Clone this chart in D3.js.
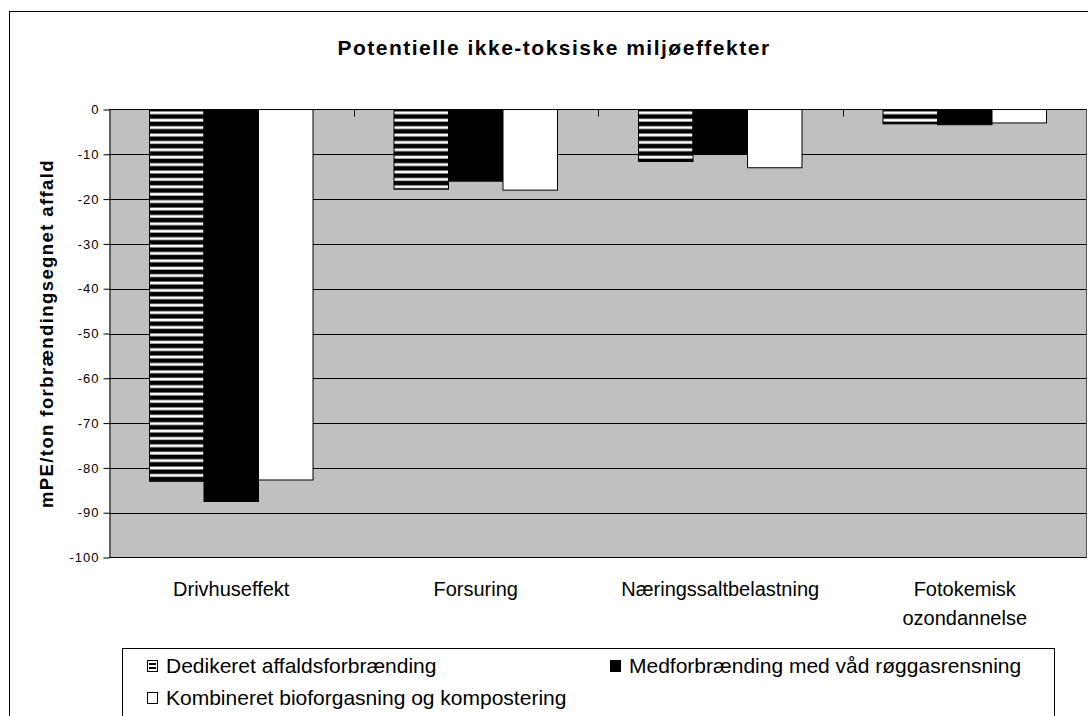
<!DOCTYPE html>
<html lang="da">
<head>
<meta charset="UTF-8">
<title>Potentielle ikke-toksiske miljøeffekter</title>
<style>
  body { margin: 0; background: #fff; }
  svg text { font-family: "Liberation Sans", Arial, sans-serif; fill: #000; }
</style>
</head>
<body>
<script src="https://d3js.org/d3.v7.min.js"></script>
<script>
// data (mPE per ton)
const categories = ["Drivhuseffekt", "Forsuring", "Næringssaltbelastning", "Fotokemisk ozondannelse"];
const series = ["Dedikeret affaldsforbrænding", "Medforbrænding med våd røggasrensning", "Kombineret bioforgasning og kompostering"];
const dedikeret = [-83, -17.8, -11.6, -3.2];
const medforbraending = [-87.5, -16, -10, -3.4];
const kombineret = [-82.7, -18, -13, -3];
const yTicks = [0, -10, -20, -30, -40, -50, -60, -70, -80, -90, -100];

const values = [dedikeret, medforbraending, kombineret];
const fills = ["url(#stripes)", "#000", "#fff"];

const W = 1088, H = 716;
const svg = d3.select("body").append("svg").attr("width", W).attr("height", H);

// horizontal stripe pattern
const pat = svg.append("defs").append("pattern")
    .attr("id", "stripes")
    .attr("patternUnits", "userSpaceOnUse")
    .attr("width", 8).attr("height", 7.4).attr("y", 109);
pat.append("rect").attr("width", 8).attr("height", 7.4).attr("fill", "#000");
pat.append("rect").attr("y", 2.4).attr("width", 8).attr("height", 2.8).attr("fill", "#fff");

// chart frame (cut off right and bottom)
svg.append("rect")
    .attr("x", 9.5).attr("y", 11.5)
    .attr("width", 1100).attr("height", 730)
    .attr("fill", "none").attr("stroke", "#000");

const x = d3.scaleBand().domain(categories).range([109, 1087]);
const x1 = d3.scaleBand().domain(series).range([0, x.bandwidth()]).paddingOuter(0.743);
const y = d3.scaleLinear().domain([-100, 0]).range([557.5, 109.5]);

// plot area
svg.append("rect")
    .attr("x", 109).attr("y", y(0))
    .attr("width", 1087 - 109).attr("height", y(-100) - y(0))
    .attr("fill", "#c0c0c0");

// gridlines
svg.append("g").selectAll("line")
    .data(yTicks.filter(d => d < 0 && d > -100))
    .join("line")
    .attr("x1", 109).attr("x2", 1087)
    .attr("y1", d => Math.round(y(d)) + 0.5).attr("y2", d => Math.round(y(d)) + 0.5)
    .attr("stroke", "#000").attr("stroke-width", 1);

// bars
const groups = svg.append("g").selectAll("g")
    .data(series)
    .join("g");
groups.selectAll("rect")
    .data((s, si) => categories.map((c, ci) => ({ c: c, s: s, si: si, v: values[si][ci] })))
    .join("rect")
    .attr("x", d => x(d.c) + x1(d.s))
    .attr("y", y(0))
    .attr("width", x1.bandwidth())
    .attr("height", d => y(d.v) - y(0))
    .attr("fill", d => fills[d.si])
    .attr("stroke", "#000").attr("stroke-width", 1);

// category axis at 0 with ticks pointing down
svg.append("line")
    .attr("x1", 109).attr("x2", 1087)
    .attr("y1", y(0)).attr("y2", y(0))
    .attr("stroke", "#000");
svg.append("g").selectAll("line")
    .data(categories.slice(1))
    .join("line")
    .attr("x1", d => Math.round(x(d)) + 0.5).attr("x2", d => Math.round(x(d)) + 0.5)
    .attr("y1", y(0)).attr("y2", y(0) + 7)
    .attr("stroke", "#000");

// bottom and right border of plot
svg.append("line")
    .attr("x1", 109).attr("x2", 1087)
    .attr("y1", y(-100)).attr("y2", y(-100))
    .attr("stroke", "#000");
svg.append("line")
    .attr("x1", 1086.5).attr("x2", 1086.5)
    .attr("y1", y(0)).attr("y2", y(-100))
    .attr("stroke", "#555");

// value axis
const yAxis = svg.append("g")
    .attr("transform", "translate(109.5,0)")
    .call(d3.axisLeft(y).tickValues(yTicks).tickFormat(d => String(d))
        .tickSize(6).tickSizeOuter(0).tickPadding(4));
yAxis.attr("font-family", null).attr("font-size", null);
yAxis.select(".domain").attr("stroke", "#000");
yAxis.selectAll(".tick line").attr("stroke", "#000");
yAxis.selectAll(".tick text")
    .attr("font-size", 13)
    .attr("letter-spacing", 1)
    .attr("fill", "#000");

// category labels
svg.append("g").selectAll("text")
    .data(categories)
    .join("text")
    .attr("text-anchor", "middle")
    .attr("font-size", 20)
    .each(function (d) {
        const lines = d.split(" ");
        d3.select(this).selectAll("tspan")
            .data(lines)
            .join("tspan")
            .attr("x", x(d) + x.bandwidth() / 2)
            .attr("y", (l, i) => 596 + i * 29)
            .text(l => l);
    });

// title
svg.append("text")
    .attr("x", 554).attr("y", 55)
    .attr("text-anchor", "middle")
    .attr("font-size", 21).attr("font-weight", "bold")
    .attr("letter-spacing", 1.5)
    .text("Potentielle ikke-toksiske miljøeffekter");

// y axis title
svg.append("text")
    .attr("transform", "translate(53," + (y(-50)) + ") rotate(-90)")
    .attr("text-anchor", "middle")
    .attr("font-size", 18.5).attr("font-weight", "bold")
    .attr("letter-spacing", 1.4)
    .text("mPE/ton forbrændingsegnet affald");

// legend
const legend = svg.append("g");
legend.append("rect")
    .attr("x", 122.5).attr("y", 648.5)
    .attr("width", 932).attr("height", 120)
    .attr("fill", "#fff").attr("stroke", "#000");
const legendPos = [[147, 666], [610, 666], [147, 698]];
const items = legend.selectAll("g.item")
    .data(series)
    .join("g")
    .attr("class", "item")
    .attr("transform", (d, i) => "translate(" + legendPos[i][0] + "," + legendPos[i][1] + ")");
items.append("rect")
    .attr("x", 0.5).attr("y", -5.5)
    .attr("width", 10).attr("height", 11)
    .attr("fill", (d, i) => i === 0 ? "#fff" : fills[i])
    .attr("stroke", "#000");
items.filter((d, i) => i === 0).append("rect")
    .attr("x", 2).attr("y", -3).attr("width", 7).attr("height", 2).attr("fill", "#000");
items.filter((d, i) => i === 0).append("rect")
    .attr("x", 2).attr("y", 1).attr("width", 7).attr("height", 2).attr("fill", "#000");
items.append("text")
    .attr("x", 19).attr("y", 7)
    .attr("font-size", 21)
    .text(d => d);
</script>
</body>
</html>
